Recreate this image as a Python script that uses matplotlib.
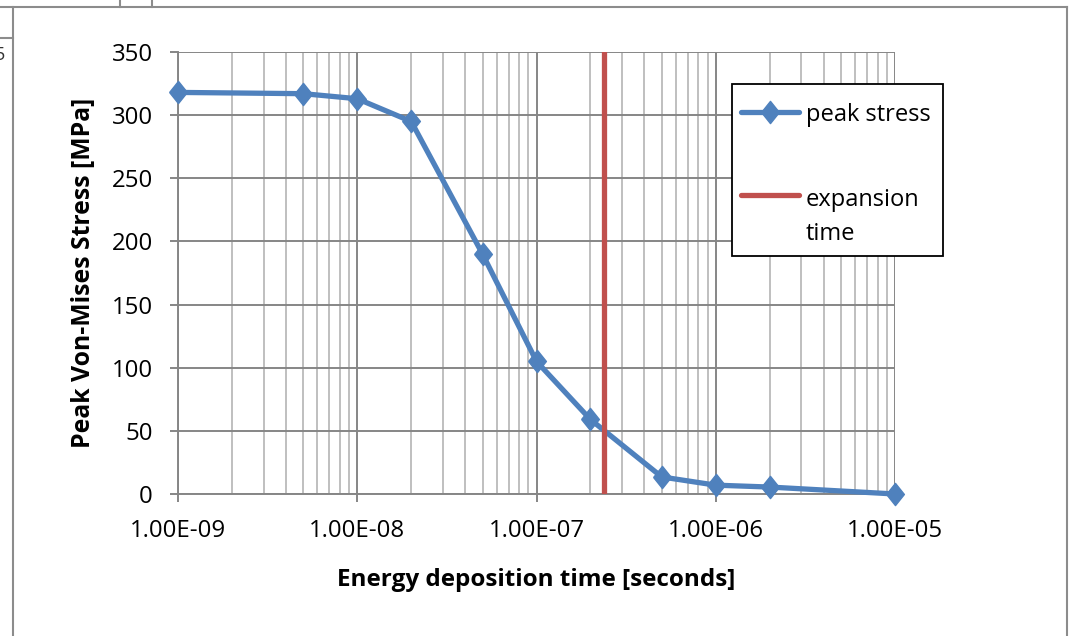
import matplotlib
matplotlib.use("Agg")
import matplotlib.pyplot as plt
from matplotlib.lines import Line2D
from matplotlib.patches import Rectangle
from matplotlib.ticker import FixedLocator, LogLocator, NullFormatter, NullLocator

plt.rcParams['font.family'] = ['Open Sans', 'DejaVu Sans']

# Energy deposition time [s] and peak von Mises stress [MPa]
deposition_time = [1e-9, 5e-9, 1e-8, 2e-8, 5e-8, 1e-7, 2e-7, 5e-7, 1e-6, 2e-6, 1e-5]
peak_stress = [318, 317, 313, 295, 190, 105, 59, 13.5, 7, 5.5, 0]

# Thermal expansion time marker
expansion_time = [2.38e-7, 2.38e-7]
expansion_span = [0, 350]

x_ticks = [1e-9, 1e-8, 1e-7, 1e-6, 1e-5]
x_tick_labels = ["1.00E-09", "1.00E-08", "1.00E-07", "1.00E-06", "1.00E-05"]
y_ticks = [0, 50, 100, 150, 200, 250, 300, 350]

W, H = 1070, 636
fig = plt.figure(figsize=(W / 100, H / 100), dpi=100)
ax = fig.add_axes([178 / W, 1 - 494 / H, (895 - 178) / W, (494 - 52) / H])

blue = "#4F81BD"
red = "#C0504D"
major_grid = "#868686"
minor_grid = "#BFBFBF"

# Slightly tall diamond, as drawn by spreadsheet charts
diamond = [(-0.8, 0), (0, 1), (0.8, 0), (0, -1), (-0.8, 0)]

ax.set_xscale("log")
ax.set_xlim(1e-9, 1e-5)
ax.set_ylim(0, 350)

ax.xaxis.set_major_locator(FixedLocator(x_ticks))
ax.set_xticklabels(x_tick_labels)
ax.xaxis.set_minor_locator(LogLocator(base=10, subs=range(2, 10), numticks=50))
ax.xaxis.set_minor_formatter(NullFormatter())
ax.yaxis.set_major_locator(FixedLocator(y_ticks))
ax.yaxis.set_minor_locator(NullLocator())

ax.grid(True, which="major", axis="both", color=major_grid, linewidth=1.4)
ax.grid(True, which="minor", axis="x", color=minor_grid, linewidth=1.4)
ax.set_axisbelow(True)

for side in ("top", "right"):
    ax.spines[side].set_visible(False)
for side in ("left", "bottom"):
    ax.spines[side].set_color(major_grid)
    ax.spines[side].set_linewidth(1.4)

ax.tick_params(axis="both", which="major", direction="out", length=6, width=1.4,
               color=major_grid, labelsize=17.3, labelcolor="black")
ax.tick_params(axis="x", which="minor", length=0)
ax.tick_params(axis="x", which="major", pad=12)
ax.tick_params(axis="y", which="major", pad=12)

ax.plot(deposition_time, peak_stress, color=blue, linewidth=3.8, marker=diamond,
        markersize=16, markerfacecolor=blue, markeredgecolor=blue,
        zorder=3, clip_on=False)
ax.plot(expansion_time, expansion_span, color=red, linewidth=3.8,
        solid_capstyle="round", zorder=4)

ax.set_xlabel("Energy deposition time [seconds]", fontsize=17.5, fontweight="bold", labelpad=18)
ax.set_ylabel("Peak Von-Mises Stress [MPa]", fontsize=17.8, fontweight="bold", labelpad=11)


# Helpers working in figure pixels (origin top-left)
def px(x, y):
    return x / W, 1 - y / H


def fig_line(xs, ys, color, lw, **kw):
    fig.add_artist(Line2D([x / W for x in xs], [1 - y / H for y in ys],
                          color=color, linewidth=lw, **kw))


# Legend box
fig.add_artist(Rectangle(px(732, 256), (943 - 732) / W, (256 - 84) / H,
                         facecolor="white", edgecolor="black", linewidth=1.3,
                         zorder=5))
fig_line([741, 799], [112, 112], blue, 3.8, solid_capstyle="round", zorder=6)
fig.add_artist(Line2D([770 / W], [1 - 112 / H], marker=diamond, markersize=16,
                      color=blue, zorder=6))
fig_line([741, 799], [195, 195], red, 3.8, solid_capstyle="round", zorder=6)
fig.text(*px(806, 121), "peak stress", fontsize=17, va="baseline", ha="left", zorder=6)
fig.text(*px(806, 206), "expansion", fontsize=17, va="baseline", ha="left", zorder=6)
fig.text(*px(806, 240), "time", fontsize=17, va="baseline", ha="left", zorder=6)

# Chart border and surrounding worksheet cell lines
border = "#8C8C8C"
fig_line([0, 1067], [7, 7], border, 1.5)
fig_line([13, 13], [7, 636], border, 1.5)
fig_line([1067, 1067], [7, 636], border, 1.5)
fig_line([0, 13], [38, 38], border, 1.5)
fig_line([120, 120], [0, 7], border, 1.5)
fig_line([152, 152], [0, 7], border, 1.5)
fig.text(5 / W, 1 - 55 / H, "5", ha="right", va="center", fontsize=13, color="#333333")

fig.savefig("out.png", dpi=100)
